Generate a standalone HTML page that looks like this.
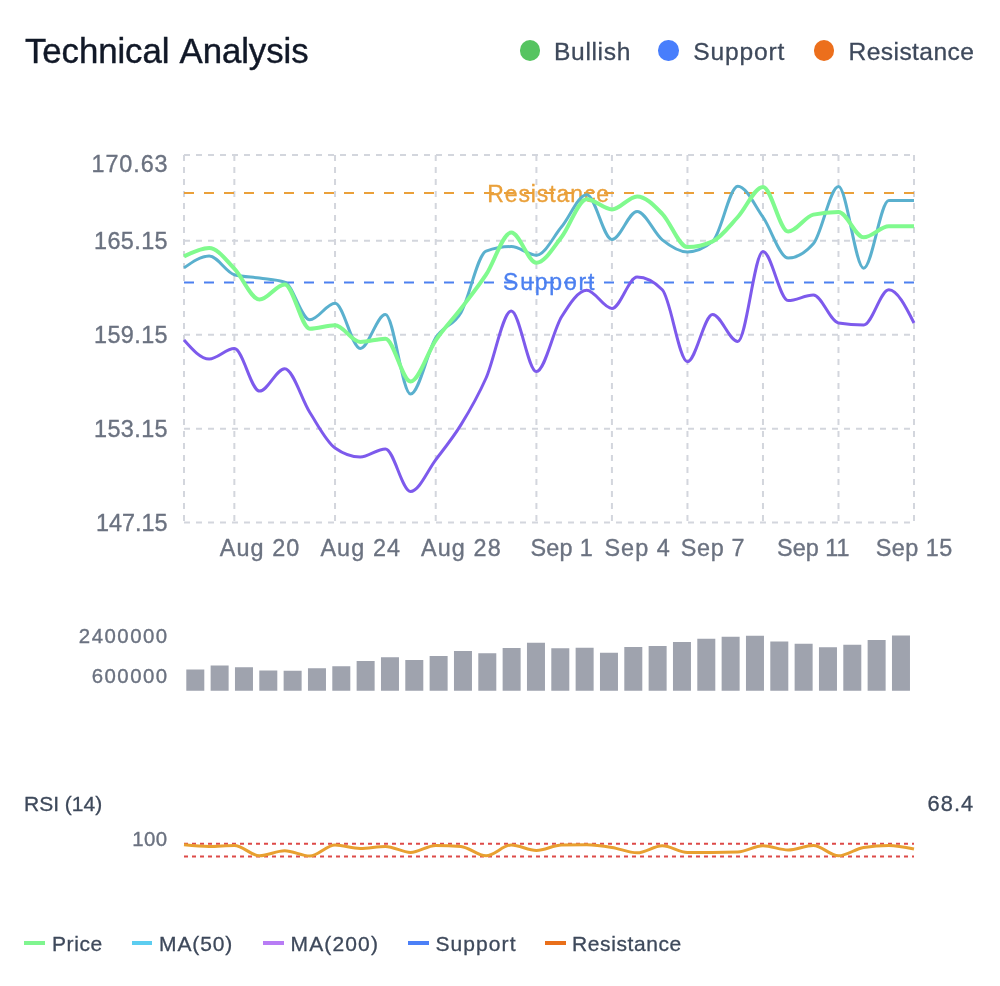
<!DOCTYPE html><html lang="en"><head><meta charset="utf-8"><title>Technical Analysis</title><style>
html,body{margin:0;padding:0;background:#fff;}
body{width:1000px;height:986px;position:relative;overflow:hidden;font-family:"Liberation Sans",sans-serif;}
.t{position:absolute;white-space:nowrap;line-height:1;-webkit-text-stroke:0.3px currentColor;}
.dot{position:absolute;width:20.5px;height:20.5px;border-radius:50%;}
.mk{position:absolute;height:4px;width:20.5px;top:940.9px;}
</style></head><body>
<div class="card">
<h3 class="t" style="margin:0;font-weight:400;left:25px;top:34.15px;font-size:34.8px;color:#111827;letter-spacing:-0.08px;word-spacing:2.5px;-webkit-text-stroke:0.4px #111827">Technical Analysis</h3>
<span class="dot" style="left:519.5px;top:40px;background:#55c460"></span>
<span class="t" style="left:554.0px;top:39.7px;font-size:24.6px;color:#3e495b;letter-spacing:0.65px">Bullish</span>
<span class="dot" style="left:658.2px;top:40px;background:#487efc"></span>
<span class="t" style="left:693.2px;top:39.7px;font-size:24.6px;color:#3e495b;letter-spacing:0.85px">Support</span>
<span class="dot" style="left:813.7px;top:40px;background:#ec6f1c"></span>
<span class="t" style="left:848.6px;top:39.7px;font-size:24.6px;color:#3e495b;letter-spacing:0.4px">Resistance</span>
<svg width="1000" height="986" viewBox="0 0 1000 986" style="position:absolute;left:0;top:0">
<g stroke="#d3d6dd" stroke-width="2" stroke-dasharray="6 6" fill="none">
<line x1="184" y1="154.9" x2="914" y2="154.9"/>
<line x1="184" y1="240.7" x2="914" y2="240.7"/>
<line x1="184" y1="334.7" x2="914" y2="334.7"/>
<line x1="184" y1="428.7" x2="914" y2="428.7"/>
<line x1="184" y1="522.6" x2="914" y2="522.6"/>
<line x1="184.00" y1="154.9" x2="184.00" y2="522.6"/>
<line x1="234.34" y1="154.9" x2="234.34" y2="522.6"/>
<line x1="335.03" y1="154.9" x2="335.03" y2="522.6"/>
<line x1="435.72" y1="154.9" x2="435.72" y2="522.6"/>
<line x1="536.41" y1="154.9" x2="536.41" y2="522.6"/>
<line x1="611.93" y1="154.9" x2="611.93" y2="522.6"/>
<line x1="687.45" y1="154.9" x2="687.45" y2="522.6"/>
<line x1="762.97" y1="154.9" x2="762.97" y2="522.6"/>
<line x1="838.48" y1="154.9" x2="838.48" y2="522.6"/>
<line x1="914.00" y1="154.9" x2="914.00" y2="522.6"/>
</g>
<g font-family="'Liberation Sans', sans-serif" font-size="23.4" fill="#6b7280" stroke="#6b7280" stroke-width="0.35" text-anchor="end" letter-spacing="0.9">
<text x="168.50" y="172.00" letter-spacing="0.9">170.63</text>
<text x="168.00" y="248.90" letter-spacing="0.4">165.15</text>
<text x="168.00" y="342.80" letter-spacing="0.4">159.15</text>
<text x="168.00" y="436.50" letter-spacing="0.4">153.15</text>
<text x="167.60" y="531.40" letter-spacing="0.0">147.15</text>
</g>
<g font-family="'Liberation Sans', sans-serif" font-size="23.4" fill="#6b7280" stroke="#6b7280" stroke-width="0.35" text-anchor="middle" letter-spacing="1.0">
<text x="260.07" y="555.6" letter-spacing="1.1">Aug 20</text>
<text x="360.76" y="555.6" letter-spacing="1.1">Aug 24</text>
<text x="461.45" y="555.6" letter-spacing="1.1">Aug 28</text>
<text x="561.74" y="555.6" letter-spacing="0.3">Sep 1</text>
<text x="637.60" y="555.6" letter-spacing="1.0">Sep 4</text>
<text x="712.95" y="555.6" letter-spacing="0.65">Sep 7</text>
<text x="813.31" y="555.6" letter-spacing="0.0">Sep 11</text>
<text x="914.25" y="555.6" letter-spacing="0.5">Sep 15</text>
</g>
<line x1="184" y1="193" x2="914" y2="193" stroke="#eaa03a" stroke-width="2" stroke-dasharray="10 10"/>
<line x1="184" y1="282.5" x2="914" y2="282.5" stroke="#4c80f0" stroke-width="2" stroke-dasharray="10 10"/>
<g font-family="'Liberation Sans', sans-serif" font-size="23" text-anchor="middle" letter-spacing="0.6">
<text x="548.6" y="201.6" fill="#eaa03a" stroke="#eaa03a" stroke-width="0.35" letter-spacing="0.9">Resistance</text>
<text x="549.6" y="290.2" fill="#4c80f0" stroke="#4c80f0" stroke-width="0.35" letter-spacing="1.8">Support</text>
</g>
<g fill="none" stroke-linecap="butt" stroke-linejoin="round">
<path d="M184.00,340.10C192.39,349.60,200.78,359.10,209.17,359.10C217.56,359.10,225.95,348.60,234.34,348.60C242.74,348.60,251.13,391.10,259.52,391.10C267.91,391.10,276.30,368.70,284.69,368.70C293.08,368.70,301.47,399.28,309.86,412.50C318.25,425.72,326.64,442.00,335.03,448.00C343.43,454.00,351.82,457.00,360.21,457.00C368.60,457.00,376.99,448.90,385.38,448.90C393.77,448.90,402.16,491.50,410.55,491.50C418.94,491.50,427.33,470.90,435.72,459.80C444.11,448.70,452.51,438.53,460.90,424.90C469.29,411.27,477.68,396.98,486.07,378.00C494.46,359.02,502.85,311.00,511.24,311.00C519.63,311.00,528.02,371.60,536.41,371.60C544.80,371.60,553.20,330.37,561.59,316.80C569.98,303.23,578.37,290.20,586.76,290.20C595.15,290.20,603.54,308.50,611.93,308.50C620.32,308.50,628.71,277.10,637.10,277.10C645.49,277.10,653.89,281.33,662.28,289.80C670.67,298.27,679.06,361.70,687.45,361.70C695.84,361.70,704.23,314.50,712.62,314.50C721.01,314.50,729.40,341.40,737.79,341.40C746.18,341.40,754.57,251.40,762.97,251.40C771.36,251.40,779.75,300.60,788.14,300.60C796.53,300.60,804.92,295.00,813.31,295.00C821.70,295.00,830.09,321.50,838.48,322.90C846.87,324.30,855.26,325.00,863.66,325.00C872.05,325.00,880.44,289.80,888.83,289.80C897.22,289.80,905.61,306.40,914.00,323.00" stroke="#7d5aec" stroke-width="3"/>
<path d="M184.00,267.90C192.39,261.95,200.78,256.00,209.17,256.00C217.56,256.00,225.95,272.43,234.34,274.70C242.74,276.97,251.13,276.87,259.52,278.10C267.91,279.33,276.30,279.43,284.69,282.10C293.08,284.77,301.47,319.80,309.86,319.80C318.25,319.80,326.64,303.30,335.03,303.30C343.43,303.30,351.82,348.40,360.21,348.40C368.60,348.40,376.99,314.40,385.38,314.40C393.77,314.40,402.16,394.00,410.55,394.00C418.94,394.00,427.33,351.45,435.72,337.90C444.11,324.35,452.51,327.17,460.90,312.70C469.29,298.23,477.68,254.10,486.07,251.10C494.46,248.10,502.85,246.60,511.24,246.60C519.63,246.60,528.02,255.20,536.41,255.20C544.80,255.20,553.20,236.88,561.59,226.80C569.98,216.72,578.37,194.70,586.76,194.70C595.15,194.70,603.54,239.50,611.93,239.50C620.32,239.50,628.71,211.40,637.10,211.40C645.49,211.40,653.89,233.05,662.28,239.80C670.67,246.55,679.06,251.90,687.45,251.90C695.84,251.90,704.23,248.40,712.62,241.40C721.01,234.40,729.40,186.20,737.79,186.20C746.18,186.20,754.57,205.13,762.97,217.10C771.36,229.07,779.75,258.00,788.14,258.00C796.53,258.00,804.92,253.27,813.31,243.80C821.70,234.33,830.09,186.60,838.48,186.60C846.87,186.60,855.26,268.20,863.66,268.20C872.05,268.20,880.44,200.50,888.83,200.50C897.22,200.50,905.61,200.50,914.00,200.50" stroke="#5ab0ce" stroke-width="3"/>
<path d="M184.00,256.40C192.39,252.15,200.78,247.90,209.17,247.90C217.56,247.90,225.95,260.10,234.34,268.70C242.74,277.30,251.13,299.50,259.52,299.50C267.91,299.50,276.30,284.40,284.69,284.40C293.08,284.40,301.47,328.70,309.86,328.70C318.25,328.70,326.64,325.20,335.03,325.20C343.43,325.20,351.82,341.90,360.21,341.90C368.60,341.90,376.99,338.70,385.38,338.70C393.77,338.70,402.16,381.40,410.55,381.40C418.94,381.40,427.33,352.42,435.72,340.30C444.11,328.18,452.51,319.63,460.90,308.70C469.29,297.77,477.68,287.40,486.07,274.70C494.46,262.00,502.85,232.50,511.24,232.50C519.63,232.50,528.02,262.80,536.41,262.80C544.80,262.80,553.20,247.60,561.59,237.00C569.98,226.40,578.37,199.20,586.76,199.20C595.15,199.20,603.54,209.40,611.93,209.40C620.32,209.40,628.71,196.40,637.10,196.40C645.49,196.40,653.89,205.35,662.28,213.80C670.67,222.25,679.06,247.10,687.45,247.10C695.84,247.10,704.23,245.20,712.62,241.40C721.01,237.60,729.40,226.08,737.79,217.00C746.18,207.92,754.57,186.90,762.97,186.90C771.36,186.90,779.75,231.60,788.14,231.60C796.53,231.60,804.92,216.40,813.31,214.60C821.70,212.80,830.09,211.90,838.48,211.90C846.87,211.90,855.26,237.30,863.66,237.30C872.05,237.30,880.44,226.30,888.83,226.30C897.22,226.30,905.61,226.30,914.00,226.30" stroke="#80fa8e" stroke-width="4"/>
</g>
<g fill="#9fa3ae">
<rect x="186.30" y="669.50" width="18" height="21.25"/>
<rect x="210.63" y="665.50" width="18" height="25.25"/>
<rect x="234.97" y="667.25" width="18" height="23.50"/>
<rect x="259.30" y="670.50" width="18" height="20.25"/>
<rect x="283.63" y="670.75" width="18" height="20.00"/>
<rect x="307.97" y="668.25" width="18" height="22.50"/>
<rect x="332.30" y="666.25" width="18" height="24.50"/>
<rect x="356.63" y="661.00" width="18" height="29.75"/>
<rect x="380.97" y="657.25" width="18" height="33.50"/>
<rect x="405.30" y="660.00" width="18" height="30.75"/>
<rect x="429.63" y="656.00" width="18" height="34.75"/>
<rect x="453.97" y="651.00" width="18" height="39.75"/>
<rect x="478.30" y="653.25" width="18" height="37.50"/>
<rect x="502.63" y="648.00" width="18" height="42.75"/>
<rect x="526.97" y="642.75" width="18" height="48.00"/>
<rect x="551.30" y="648.25" width="18" height="42.50"/>
<rect x="575.63" y="647.75" width="18" height="43.00"/>
<rect x="599.97" y="652.75" width="18" height="38.00"/>
<rect x="624.30" y="647.00" width="18" height="43.75"/>
<rect x="648.63" y="646.00" width="18" height="44.75"/>
<rect x="672.97" y="642.00" width="18" height="48.75"/>
<rect x="697.30" y="638.75" width="18" height="52.00"/>
<rect x="721.63" y="636.75" width="18" height="54.00"/>
<rect x="745.97" y="635.75" width="18" height="55.00"/>
<rect x="770.30" y="641.50" width="18" height="49.25"/>
<rect x="794.63" y="643.75" width="18" height="47.00"/>
<rect x="818.97" y="647.25" width="18" height="43.50"/>
<rect x="843.30" y="644.75" width="18" height="46.00"/>
<rect x="867.63" y="640.00" width="18" height="50.75"/>
<rect x="891.97" y="635.50" width="18" height="55.25"/>
</g>
<g font-family="'Liberation Sans', sans-serif" font-size="20.4" fill="#6b7280" stroke="#6b7280" stroke-width="0.35" text-anchor="end" letter-spacing="1.5">
<text x="168.7" y="643">2400000</text>
<text x="168.7" y="682.8">600000</text>
<text x="167.6" y="845.8" letter-spacing="0.4">100</text>
</g>
<g stroke="#dd4a48" stroke-width="2" stroke-dasharray="4 4">
<line x1="184" y1="843.8" x2="914" y2="843.8"/>
<line x1="184" y1="856.4" x2="914" y2="856.4"/>
</g>
<path d="M184.00,844.80C192.39,845.60,200.78,846.40,209.17,846.40C217.56,846.40,225.95,845.40,234.34,845.40C242.74,845.40,251.13,855.80,259.52,855.80C267.91,855.80,276.30,850.80,284.69,850.80C293.08,850.80,301.47,856.00,309.86,856.00C318.25,856.00,326.64,845.00,335.03,845.00C343.43,845.00,351.82,848.40,360.21,848.40C368.60,848.40,376.99,846.40,385.38,846.40C393.77,846.40,402.16,852.40,410.55,852.40C418.94,852.40,427.33,845.40,435.72,845.40C444.11,845.40,452.51,845.73,460.90,846.40C469.29,847.07,477.68,855.80,486.07,855.80C494.46,855.80,502.85,845.00,511.24,845.00C519.63,845.00,528.02,850.40,536.41,850.40C544.80,850.40,553.20,845.13,561.59,845.00C569.98,844.87,578.37,844.80,586.76,844.80C595.15,844.80,603.54,846.07,611.93,847.40C620.32,848.73,628.71,852.80,637.10,852.80C645.49,852.80,653.89,845.80,662.28,845.80C670.67,845.80,679.06,852.40,687.45,852.40C695.84,852.40,704.23,852.40,712.62,852.40C721.01,852.40,729.40,852.27,737.79,852.00C746.18,851.73,754.57,845.80,762.97,845.80C771.36,845.80,779.75,850.00,788.14,850.00C796.53,850.00,804.92,845.40,813.31,845.40C821.70,845.40,830.09,855.80,838.48,855.80C846.87,855.80,855.26,848.73,863.66,847.40C872.05,846.07,880.44,845.40,888.83,845.40C897.22,845.40,905.61,847.20,914.00,849.00" fill="none" stroke="#e8a030" stroke-width="3"/>
</svg>
<span class="t" style="left:24px;top:793px;font-size:21px;color:#3e495b;letter-spacing:0px">RSI (14)</span>
<span class="t" style="left:927.6px;top:793.3px;font-size:21.8px;color:#3e495b;letter-spacing:1.05px">68.4</span>
<span class="mk" style="left:24.2px;background:#7ff58f"></span>
<span class="t" style="left:52px;top:932.5px;font-size:21px;color:#3e495b;letter-spacing:0.6px">Price</span>
<span class="mk" style="left:131.5px;background:#5ccdf0"></span>
<span class="t" style="left:159px;top:932.5px;font-size:21px;color:#3e495b;letter-spacing:0.9px">MA(50)</span>
<span class="mk" style="left:263px;background:#b87cf5"></span>
<span class="t" style="left:290.5px;top:932.5px;font-size:21px;color:#3e495b;letter-spacing:1.15px">MA(200)</span>
<span class="mk" style="left:408.2px;background:#4c80f7"></span>
<span class="t" style="left:435.5px;top:932.5px;font-size:21px;color:#3e495b;letter-spacing:1.07px">Support</span>
<span class="mk" style="left:545px;background:#e96f1a"></span>
<span class="t" style="left:572px;top:932.5px;font-size:21px;color:#3e495b;letter-spacing:0.6px">Resistance</span>
</div></body></html>
